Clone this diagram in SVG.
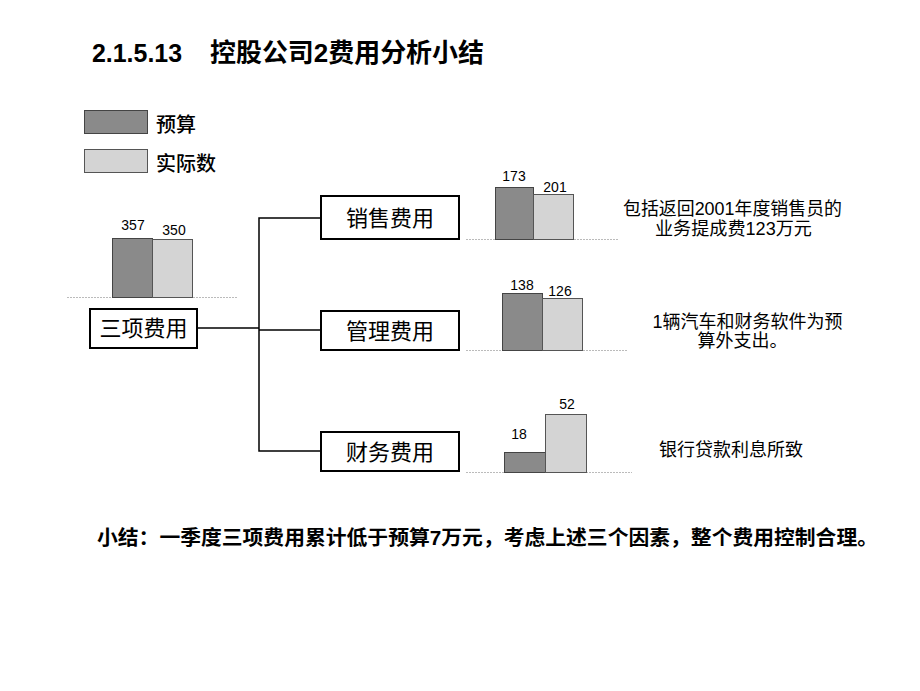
<svg xmlns="http://www.w3.org/2000/svg" width="920" height="691" viewBox="0 0 920 691">
<style>
text{font-family:"Liberation Sans","Noto Sans CJK SC",sans-serif;fill:#000}
.t{font-size:26px;font-weight:bold}
.lg{font-size:20px;font-weight:500}
.box{fill:#fff;stroke:#000;stroke-width:2}
.bl{font-size:22px;text-anchor:middle}
.bud{fill:#8a8a8a;stroke:#444;stroke-width:1}
.act{fill:#d4d4d4;stroke:#555;stroke-width:1}
.base{stroke:#bbb;stroke-width:1;stroke-dasharray:2 1}
.num{font-size:14px;text-anchor:middle}
.note{font-size:18px;text-anchor:middle}
.con{stroke:#000;stroke-width:1.5;fill:none}
.sum{font-size:20px;font-weight:bold}
</style>
<rect width="920" height="691" fill="#fff"/>
<text class="t" x="92" y="62" textLength="90" lengthAdjust="spacingAndGlyphs">2.1.5.13</text>
<text class="t" x="210" y="62" textLength="274" lengthAdjust="spacingAndGlyphs">控股公司2费用分析小结</text>

<g id="legend">
<rect class="bud" x="84.5" y="110.5" width="63" height="23"/>
<text class="lg" x="156" y="132">预算</text>
<rect class="act" x="84.5" y="149.5" width="63" height="23"/>
<text class="lg" x="156" y="171">实际数</text>
</g>

<g id="connectors">
<polyline class="con" points="197,328 259,328"/>
<polyline class="con" points="321,218 259,218 259,451 321,451"/>
<polyline class="con" points="259,330 321,330"/>
</g>

<g id="total-chart">
<line class="base" x1="67" y1="297.5" x2="238" y2="297.5"/>
<rect class="bud" x="112.5" y="238.5" width="40" height="59"/>
<rect class="act" x="152.5" y="239.5" width="40" height="58"/>
<text class="num" x="133" y="230">357</text>
<text class="num" x="174" y="235">350</text>
</g>

<g id="node-total">
<rect class="box" x="90" y="309" width="107" height="39"/>
<text class="bl" x="143.5" y="336">三项费用</text>
</g>

<g id="node-sales">
<rect class="box" x="321" y="196" width="138" height="43"/>
<text class="bl" x="390" y="226">销售费用</text>
</g>
<g id="node-admin">
<rect class="box" x="321" y="311" width="138" height="39"/>
<text class="bl" x="390" y="339">管理费用</text>
</g>
<g id="node-finance">
<rect class="box" x="321" y="432" width="138" height="39"/>
<text class="bl" x="390" y="460">财务费用</text>
</g>

<g id="sales-chart">
<line class="base" x1="466" y1="239.5" x2="619" y2="239.5"/>
<rect class="bud" x="495.5" y="187.5" width="38" height="52"/>
<rect class="act" x="533.5" y="194.5" width="40" height="45"/>
<text class="num" x="514" y="181">173</text>
<text class="num" x="555" y="192">201</text>
</g>
<g id="admin-chart">
<line class="base" x1="466" y1="350.5" x2="627" y2="350.5"/>
<rect class="bud" x="502.5" y="293.5" width="40" height="57"/>
<rect class="act" x="542.5" y="298.5" width="40" height="52"/>
<text class="num" x="522" y="290">138</text>
<text class="num" x="560" y="296">126</text>
</g>
<g id="finance-chart">
<line class="base" x1="466" y1="472.5" x2="632" y2="472.5"/>
<rect class="bud" x="504.5" y="452.5" width="41" height="20"/>
<rect class="act" x="545.5" y="414.5" width="41" height="58"/>
<text class="num" x="519" y="439">18</text>
<text class="num" x="567" y="409">52</text>
</g>

<g id="notes">
<text class="note" x="732.5" y="215" textLength="219" lengthAdjust="spacingAndGlyphs">包括返回2001年度销售员的</text>
<text class="note" x="733.5" y="235" textLength="157" lengthAdjust="spacingAndGlyphs">业务提成费123万元</text>
<text class="note" x="747.5" y="328">1辆汽车和财务软件为预</text>
<text class="note" x="742.5" y="347">算外支出。</text>
<text class="note" x="731" y="456">银行贷款利息所致</text>
</g>

<text class="sum" x="97" y="545" textLength="781" lengthAdjust="spacingAndGlyphs">小结：一季度三项费用累计低于预算7万元，考虑上述三个因素，整个费用控制合理。</text>
</svg>
